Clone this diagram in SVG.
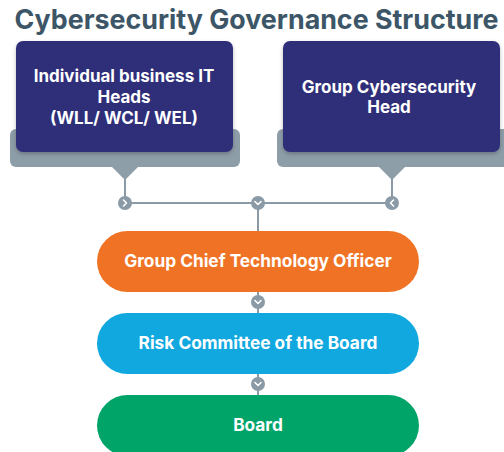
<svg xmlns="http://www.w3.org/2000/svg" width="504" height="452" viewBox="0 0 504 452">
<defs>
<filter id="sh" x="-10%" y="-10%" width="120%" height="130%"><feDropShadow dx="0" dy="2" stdDeviation="2" flood-color="#000" flood-opacity="0.25"/></filter>
<style>
.t{font-family:Inter,"Liberation Sans",sans-serif;font-weight:700;fill:#fff;text-anchor:middle}
.title{font-family:Inter,"Liberation Sans",sans-serif;font-weight:700;fill:#3c5667;font-size:26.8px}
.line{stroke:#8a9aa6;stroke-width:2;fill:none}
.dot{fill:#8a9aa6}
.chev{stroke:#fff;stroke-width:1.6;fill:none;stroke-linecap:round;stroke-linejoin:round}
.back{fill:#8e9ea9}
.navy{fill:#2f2e79}
</style>
</defs>
<rect width="504" height="452" fill="#fff"/>
<text class="title" x="256.5" y="29" text-anchor="middle">Cybersecurity Governance Structure</text>

<g id="connectors">
<line class="line" x1="125" y1="176" x2="125" y2="203"/>
<line class="line" x1="392" y1="176" x2="392" y2="203"/>
<line class="line" x1="125" y1="203" x2="392" y2="203"/>
<line class="line" x1="258" y1="203" x2="258" y2="232"/>
<line class="line" x1="258" y1="290" x2="258" y2="314"/>
<line class="line" x1="258" y1="372" x2="258" y2="396"/>
<circle class="dot" cx="125" cy="203" r="7"/>
<polyline class="chev" points="123.5,200 126.5,203 123.5,206"/>
<circle class="dot" cx="392" cy="203" r="7"/>
<polyline class="chev" points="393.5,200 390.5,203 393.5,206"/>
<circle class="dot" cx="258" cy="203" r="7"/>
<polyline class="chev" points="255,201.5 258,204.5 261,201.5"/>
<circle class="dot" cx="258" cy="302" r="7"/>
<polyline class="chev" points="255,300.5 258,303.5 261,300.5"/>
<circle class="dot" cx="258" cy="384" r="7"/>
<polyline class="chev" points="255,382.5 258,385.5 261,382.5"/>
</g>

<g id="node-it-heads">
<rect class="back" x="10" y="129" width="230" height="38" rx="6"/>
<polygon class="back" points="111,166 139,166 125,180"/>
<rect class="navy" x="16" y="41" width="217" height="111" rx="7" filter="url(#sh)"/>
<text class="t" font-size="17" x="124" y="82">Individual business IT</text>
<text class="t" font-size="17" x="124" y="103">Heads</text>
<text class="t" font-size="17" x="124" y="124">(WLL/ WCL/ WEL)</text>
</g>

<g id="node-group-cyber">
<rect class="back" x="277" y="129" width="233" height="38" rx="6"/>
<polygon class="back" points="378,166 406,166 392,180"/>
<rect class="navy" x="283" y="41" width="217" height="111" rx="7" filter="url(#sh)"/>
<text class="t" font-size="17" x="389" y="93">Group Cybersecurity</text>
<text class="t" font-size="17" x="389" y="113">Head</text>
</g>

<g id="node-gcto">
<rect x="97" y="231" width="322" height="61" rx="30.5" fill="#f07325"/>
<text class="t" font-size="17.3" x="258" y="267">Group Chief Technology Officer</text>
</g>

<g id="node-risk">
<rect x="97" y="313" width="322" height="61" rx="30.5" fill="#11a8e0"/>
<text class="t" font-size="17.3" x="258" y="349">Risk Committee of the Board</text>
</g>

<g id="node-board">
<rect x="97" y="395" width="322" height="61" rx="30.5" fill="#00a468"/>
<text class="t" font-size="17.3" x="258" y="431">Board</text>
</g>
</svg>
